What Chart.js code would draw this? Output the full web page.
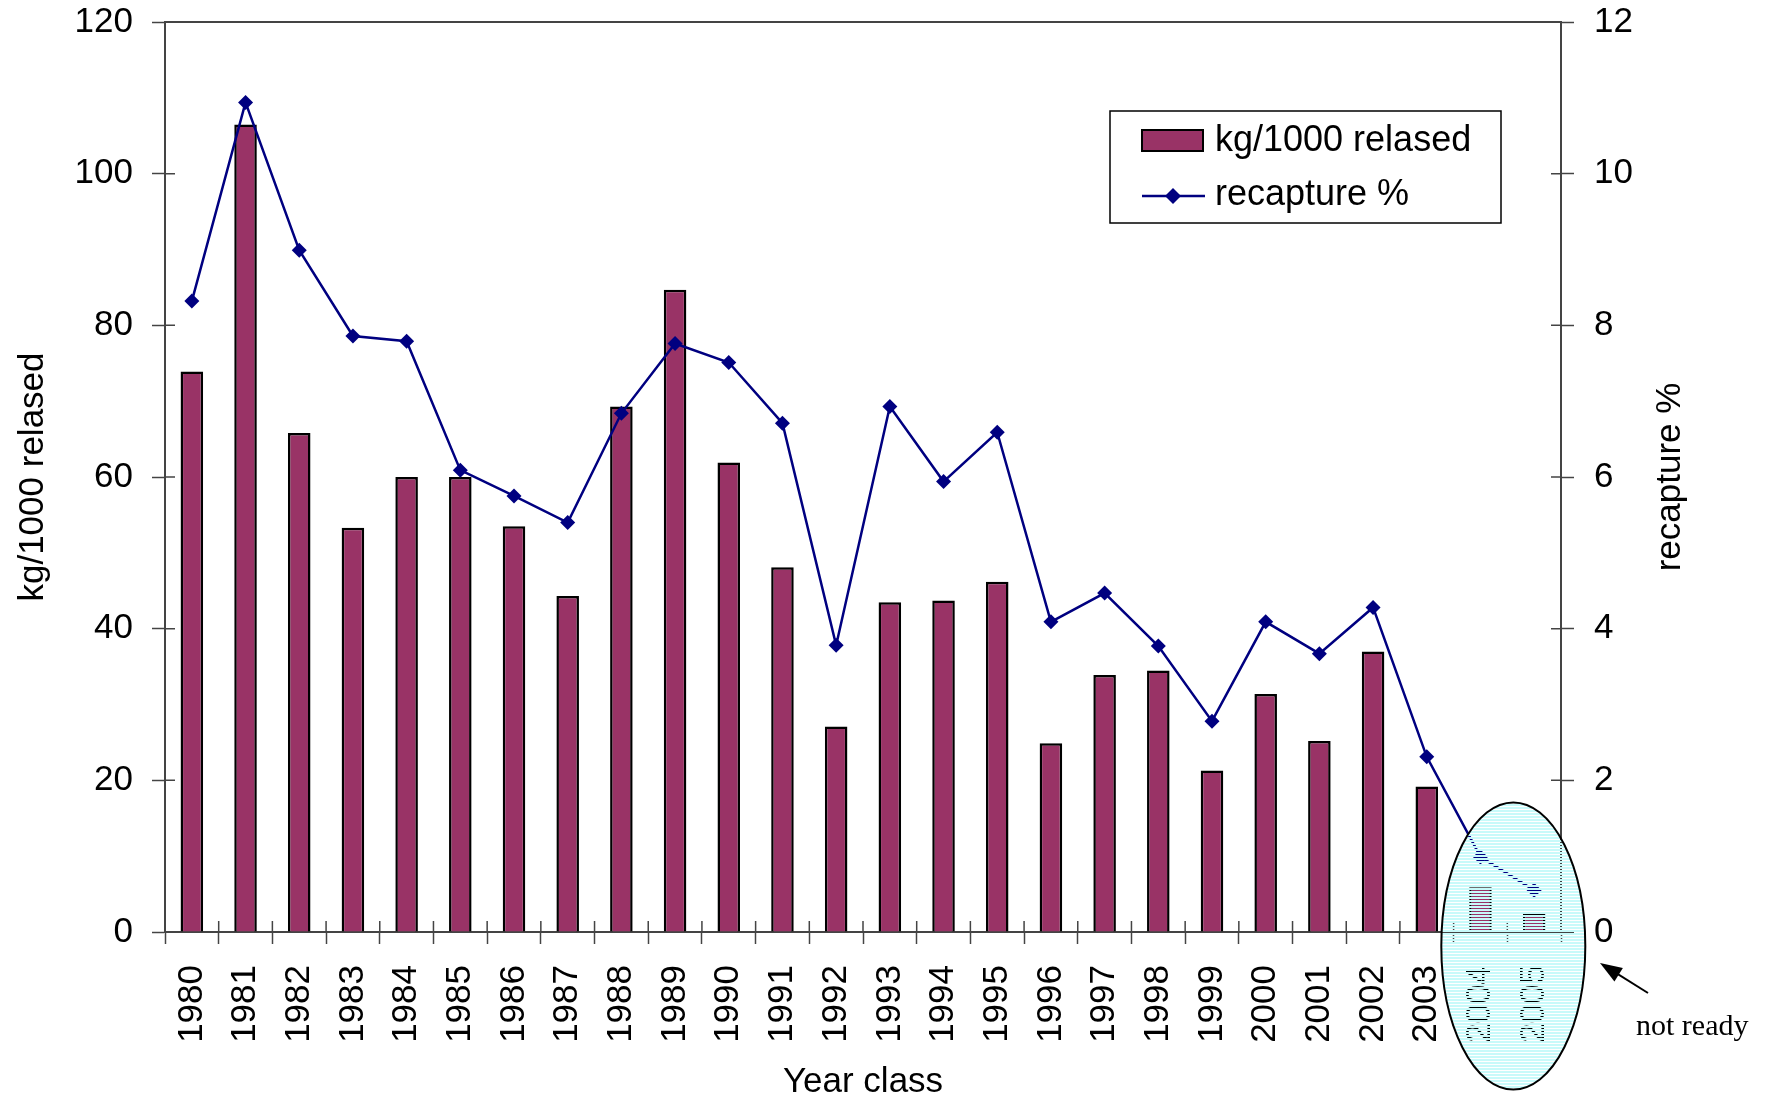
<!DOCTYPE html>
<html>
<head>
<meta charset="utf-8">
<script src="https://cdn.jsdelivr.net/npm/chart.js@4.4.1/dist/chart.umd.min.js"></script>
<style>
    html, body { margin: 0; padding: 0; background: #fff; }
    #chart { display: block; }
</style>
</head>
<body>
<canvas id="chart" width="1772" height="1100"></canvas>
<script>
// 年份
const yearClasses = ['1980', '1981', '1982', '1983', '1984', '1985', '1986', '1987', '1988', '1989',
    '1990', '1991', '1992', '1993', '1994', '1995', '1996', '1997', '1998', '1999',
    '2000', '2001', '2002', '2003', '2004', '2005'];

// kg/1000 relased (柱状图)
const kgPer1000 = [73.9, 106.5, 65.8, 53.3, 60.0, 60.0, 53.5, 44.3, 69.3, 84.7,
    61.9, 48.1, 27.1, 43.5, 43.7, 46.2, 24.9, 33.9, 34.5, 21.3,
    31.4, 25.2, 37.0, 19.2, 5.9, 2.4];

// recapture % (折线图)
const recapturePct = [8.32, 10.94, 8.99, 7.86, 7.79, 6.09, 5.75, 5.40, 6.84, 7.76,
    7.51, 6.71, 3.78, 6.93, 5.94, 6.59, 4.09, 4.47, 3.77, 2.78,
    4.09, 3.67, 4.28, 2.31, 0.99, 0.55];

// 刻度
const leftTicks = [0, 20, 40, 60, 80, 100, 120];
const rightTicks = [0, 2, 4, 6, 8, 10, 12];

// 未完成的年份 (椭圆标记)
const notReadyYears = ['2004', '2005'];

const FONT = "'Liberation Sans', Arial, Helvetica, sans-serif";
const BAR_COLOR = '#993366';
const LINE_COLOR = '#000080';
const AXIS_COLOR = '#444444';

// 椭圆里的条纹
function makeStripePattern(ctx) {
    const c = document.createElement('canvas');
    c.width = 4;
    c.height = 3;
    const p = c.getContext('2d');
    p.fillStyle = '#c8fafa';
    p.fillRect(0, 0, 4, 2);
    return ctx.createPattern(c, 'repeat');
}

// 额外绘制：边框、内刻度、图例、椭圆、箭头
const decorPlugin = {
    id: 'decor',
    afterDraw(chart) {
        const ctx = chart.ctx;
        const a = chart.chartArea;
        const x = chart.scales.x;
        const y = chart.scales.y;
        const y1 = chart.scales.y1;
        ctx.save();

        // 上边框
        ctx.strokeStyle = AXIS_COLOR;
        ctx.lineWidth = 2;
        ctx.beginPath();
        ctx.moveTo(a.left, a.top);
        ctx.lineTo(a.right, a.top);
        ctx.stroke();

        // 内侧刻度
        ctx.lineWidth = 1.5;
        ctx.beginPath();
        leftTicks.forEach(v => {
            const py = y.getPixelForValue(v);
            ctx.moveTo(a.left, py);
            ctx.lineTo(a.left + 10, py);
        });
        rightTicks.forEach(v => {
            const py = y1.getPixelForValue(v);
            ctx.moveTo(a.right - 10, py);
            ctx.lineTo(a.right, py);
        });
        const step = (a.right - a.left) / yearClasses.length;
        for (let i = 0; i <= yearClasses.length; i++) {
            const px = a.left + i * step;
            ctx.moveTo(px, a.bottom - 11);
            ctx.lineTo(px, a.bottom);
        }
        ctx.stroke();

        // 右侧标题
        ctx.fillStyle = '#000';
        ctx.font = '35px ' + FONT;
        ctx.textAlign = 'center';
        ctx.textBaseline = 'middle';
        ctx.save();
        ctx.translate(1670, (a.top + a.bottom) / 2);
        ctx.rotate(-Math.PI / 2);
        ctx.fillText('recapture %', 0, 0);
        ctx.restore();

        // 图例
        const ds = chart.data.datasets;
        ctx.fillStyle = '#fff';
        ctx.fillRect(1110, 111, 391, 112);
        ctx.strokeStyle = '#000';
        ctx.lineWidth = 1.5;
        ctx.strokeRect(1110, 111, 391, 112);
        ctx.fillStyle = BAR_COLOR;
        ctx.fillRect(1142, 130, 61, 21);
        ctx.lineWidth = 2;
        ctx.strokeRect(1142, 130, 61, 21);
        ctx.strokeStyle = LINE_COLOR;
        ctx.lineWidth = 2.5;
        ctx.beginPath();
        ctx.moveTo(1142, 196);
        ctx.lineTo(1205, 196);
        ctx.stroke();
        ctx.fillStyle = LINE_COLOR;
        ctx.beginPath();
        ctx.moveTo(1173, 188);
        ctx.lineTo(1181, 196);
        ctx.lineTo(1173, 204);
        ctx.lineTo(1165, 196);
        ctx.closePath();
        ctx.fill();
        ctx.fillStyle = '#000';
        ctx.font = '36px ' + FONT;
        ctx.textAlign = 'left';
        ctx.fillText(ds[1].label, 1215, 141);
        ctx.fillText(ds[0].label, 1215, 195);

        // 椭圆 (not ready)
        const x0 = x.getPixelForValue(yearClasses.indexOf(notReadyYears[0]));
        const x1 = x.getPixelForValue(yearClasses.indexOf(notReadyYears[1]));
        const cx = (x0 + x1) / 2 + 6;
        const cy = y.getPixelForValue(0) + 14;
        ctx.beginPath();
        ctx.ellipse(cx, cy, 72, 143.5, 0, 0, Math.PI * 2);
        ctx.fillStyle = makeStripePattern(ctx);
        ctx.fill();
        ctx.strokeStyle = '#000';
        ctx.lineWidth = 2;
        ctx.stroke();

        // 箭头
        const tipX = 1600, tipY = 963, tailX = 1648, tailY = 993;
        const ang = Math.atan2(tipY - tailY, tipX - tailX);
        ctx.strokeStyle = '#000';
        ctx.lineWidth = 2;
        ctx.beginPath();
        ctx.moveTo(tailX, tailY);
        ctx.lineTo(tipX + 14 * Math.cos(ang + Math.PI), tipY + 14 * Math.sin(ang + Math.PI));
        ctx.stroke();
        ctx.fillStyle = '#000';
        ctx.beginPath();
        ctx.moveTo(tipX, tipY);
        ctx.lineTo(tipX - 22 * Math.cos(ang) + 8 * Math.sin(ang), tipY - 22 * Math.sin(ang) - 8 * Math.cos(ang));
        ctx.lineTo(tipX - 22 * Math.cos(ang) - 8 * Math.sin(ang), tipY - 22 * Math.sin(ang) + 8 * Math.cos(ang));
        ctx.closePath();
        ctx.fill();

        ctx.font = "30px 'Liberation Serif', 'Times New Roman', serif";
        ctx.textAlign = 'left';
        ctx.textBaseline = 'alphabetic';
        ctx.fillText('not ready', 1636, 1035);

        ctx.restore();
    }
};

// 渲染图表
function renderChart() {
    const ctx = document.getElementById('chart').getContext('2d');
    Chart.defaults.font.family = FONT;
    Chart.defaults.color = '#000';

    new Chart(ctx, {
        type: 'bar',
        data: {
            labels: yearClasses,
            datasets: [{
                type: 'line',
                label: 'recapture %',
                data: recapturePct,
                yAxisID: 'y1',
                borderColor: LINE_COLOR,
                backgroundColor: LINE_COLOR,
                borderWidth: 2.5,
                pointStyle: 'rectRot',
                pointRadius: 7.5,
                pointBorderWidth: 0,
                tension: 0,
                order: 0
            }, {
                type: 'bar',
                label: 'kg/1000 relased',
                data: kgPer1000,
                yAxisID: 'y',
                backgroundColor: BAR_COLOR,
                borderColor: '#000',
                borderWidth: 2.5,
                barPercentage: 0.42,
                categoryPercentage: 1,
                order: 1
            }]
        },
        options: {
            responsive: false,
            devicePixelRatio: 1,
            animation: false,
            layout: {
                padding: { top: 22, left: 0, right: 0, bottom: 0 }
            },
            scales: {
                x: {
                    offset: true,
                    grid: {
                        display: true,
                        drawOnChartArea: false,
                        offset: true,
                        tickLength: 12,
                        tickColor: AXIS_COLOR,
                        tickWidth: 1.5
                    },
                    border: { display: true, color: AXIS_COLOR, width: 2 },
                    ticks: {
                        autoSkip: false,
                        minRotation: 90,
                        maxRotation: 90,
                        padding: 21,
                        font: { size: 35 }
                    },
                    title: {
                        display: true,
                        text: 'Year class',
                        font: { size: 35, lineHeight: 1 },
                        padding: { top: 0, bottom: 0 }
                    },
                    afterFit(scale) { scale.height = 168; }
                },
                y: {
                    position: 'left',
                    min: 0,
                    max: 120,
                    ticks: { stepSize: 20, padding: 19, font: { size: 35 } },
                    grid: {
                        drawOnChartArea: false,
                        tickLength: 13,
                        tickColor: AXIS_COLOR,
                        tickWidth: 1.5
                    },
                    border: { display: true, color: AXIS_COLOR, width: 2 },
                    title: {
                        display: true,
                        text: 'kg/1000 relased',
                        font: { size: 35, lineHeight: 1 },
                        padding: { top: 16, bottom: 0 }
                    },
                    afterFit(scale) {
                        scale.width = 165;
                        scale.paddingTop = 0;
                        scale.paddingBottom = 0;
                    }
                },
                y1: {
                    position: 'right',
                    min: 0,
                    max: 12,
                    ticks: { stepSize: 2, padding: 20, font: { size: 35 } },
                    grid: {
                        drawOnChartArea: false,
                        tickLength: 13,
                        tickColor: AXIS_COLOR,
                        tickWidth: 1.5
                    },
                    border: { display: true, color: AXIS_COLOR, width: 2 },
                    afterFit(scale) {
                        scale.width = 211;
                        scale.paddingTop = 0;
                        scale.paddingBottom = 0;
                    }
                }
            },
            plugins: {
                legend: { display: false },
                tooltip: { enabled: false }
            }
        },
        plugins: [decorPlugin]
    });
}

renderChart();
</script>
</body>
</html>
